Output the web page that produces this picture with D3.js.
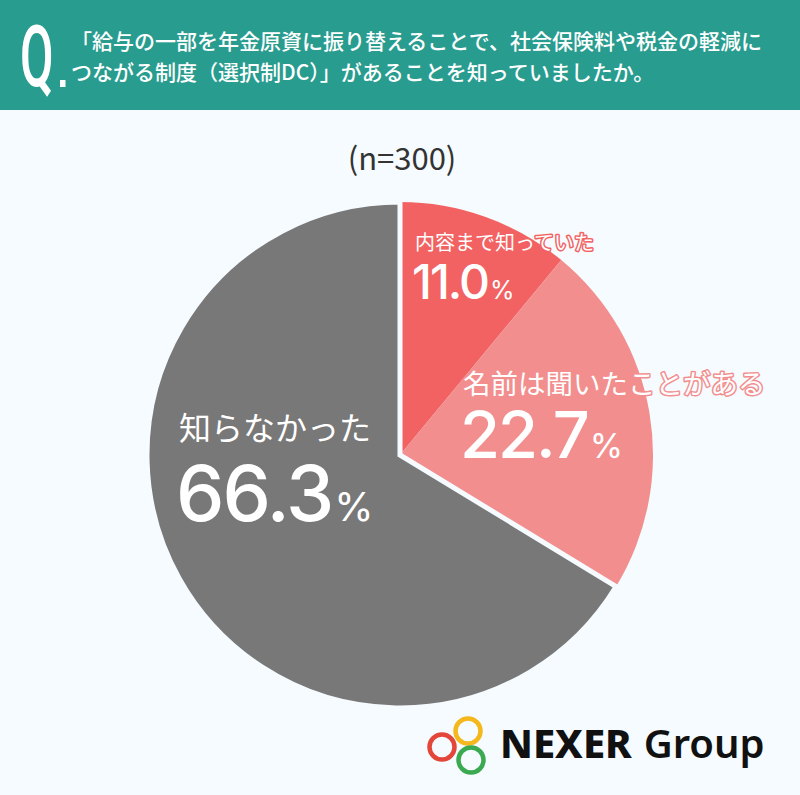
<!DOCTYPE html>
<html>
<head>
<meta charset="utf-8">
<script src="https://cdn.jsdelivr.net/npm/d3@7"></script>
<style>
  body { margin: 0; background: #f5fbfe; }
  text { font-family: "Noto Sans CJK JP", "Noto Sans", sans-serif; }
</style>
</head>
<body>
<script>
//chart values
var categories = ["内容まで知っていた", "名前は聞いたことがある", "知らなかった"];
var values = [11.0, 22.7, 66.3];
var colors = ["#f26262", "#f28e8e", "#787878"];
var questionLines = [
    "「給与の一部を年金原資に振り替えることで、社会保険料や税金の軽減に",
    "つながる制度（選択制DC）」があることを知っていましたか。"
];
var sampleLabel = "(n=300)";

var w = 800, h = 795;
var cx = 400, cy = 455, r = 253;

var svg = d3.select("body")
    .append("svg")
    .attr("width", w)
    .attr("height", h);

//background
svg.append("rect")
    .attr("width", w)
    .attr("height", h)
    .style("fill", "#f5fbfe");

//header band
svg.append("rect")
    .attr("width", w)
    .attr("height", 110)
    .style("fill", "#289c8f");

//big Q
svg.append("text")
    .attr("transform", "translate(20,86) scale(0.58,1.02)")
    .style("font-family", "Roboto, sans-serif")
    .style("font-weight", 500)
    .style("font-size", "84px")
    .style("fill", "#fff")
    .text("Q");

svg.append("rect")
    .attr("x", 60).attr("y", 80)
    .attr("width", 5.5).attr("height", 7)
    .style("fill", "#fff");

//question text
svg.selectAll(".qline")
    .data(questionLines)
    .enter()
    .append("text")
    .attr("class", "qline")
    .attr("x", 71)
    .attr("y", function(d, i){ return 49 + i * 31; })
    .style("font-size", "21px")
    .style("font-weight", 500)
    .style("fill", "#fff")
    .text(function(d){ return d; });

//sample size
svg.append("text")
    .attr("x", 402)
    .attr("y", 170)
    .attr("text-anchor", "middle")
    .style("font-size", "31px")
    .style("font-weight", 400)
    .style("fill", "#333")
    .text(sampleLabel);

//pie
var pie = d3.pie().sort(null).value(function(d){ return d; });
var arc = d3.arc().innerRadius(0).outerRadius(r);
var arcs = pie(values);

var g = svg.append("g").attr("transform", "translate(" + cx + "," + cy + ")");

g.selectAll(".slice")
    .data(arcs)
    .enter()
    .append("path")
    .attr("class", "slice")
    .attr("d", arc)
    .style("fill", function(d, i){ return colors[i]; });

//white gap around the grey slice
g.append("path")
    .datum(arcs[2])
    .attr("d", arc)
    .style("fill", colors[2])
    .style("stroke", "#f5fbfe")
    .style("stroke-width", 5)
    .style("stroke-linejoin", "miter");

//labels: [x, y of name, y of value, name size, value size, pct size]
var labelLayout = [
    [415, 250, 299, 20, 48, 25],
    [463, 394, 458, 27.5, 65, 34],
    [179, 440, 521, 32, 77, 40]
];

labelLayout.forEach(function(p, i){
    var col = colors[i];
    svg.append("text")
        .attr("x", p[0])
        .attr("y", p[1])
        .attr("paint-order", "stroke")
        .style("font-size", p[3] + "px")
        .style("font-weight", 400)
        .style("fill", "#fff")
        .style("stroke", col)
        .style("stroke-width", 3)
        .style("stroke-linejoin", "round")
        .text(categories[i]);

    var val = svg.append("text")
        .attr("x", p[0] - 3)
        .attr("y", p[2])
        .attr("paint-order", "stroke")
        .style("font-family", "Inter, sans-serif")
        .style("font-weight", 500)
        .style("fill", "#fff")
        .style("stroke", col)
        .style("stroke-width", 3)
        .style("stroke-linejoin", "round")
        .style("letter-spacing", "-2px");
    val.append("tspan")
        .style("font-size", p[4] + "px")
        .text(d3.format(".1f")(values[i]));
    val.append("tspan")
        .attr("dx", 2)
        .style("font-size", p[5] + "px")
        .style("font-weight", 400)
        .style("letter-spacing", "0px")
        .text("%");
});

//logo rings
var rings = [
    [468, 731, "#f4b81c"],
    [442, 747, "#e2473a"],
    [471, 760, "#3aa94f"]
];
svg.selectAll(".ring")
    .data(rings)
    .enter()
    .append("circle")
    .attr("class", "ring")
    .attr("cx", function(d){ return d[0]; })
    .attr("cy", function(d){ return d[1]; })
    .attr("r", 12.5)
    .style("fill", "none")
    .style("stroke", function(d){ return d[2]; })
    .style("stroke-width", 4.5);

var logo = svg.append("text")
    .attr("x", 500)
    .attr("y", 758)
    .style("font-family", "'Noto Sans', sans-serif")
    .style("fill", "#111");
logo.append("tspan")
    .style("font-weight", 800)
    .style("font-size", "40px")
    .text("NEXER");
logo.append("tspan")
    .attr("dx", 12)
    .style("font-weight", 600)
    .style("font-size", "40px")
    .text("Group");
</script>
</body>
</html>
